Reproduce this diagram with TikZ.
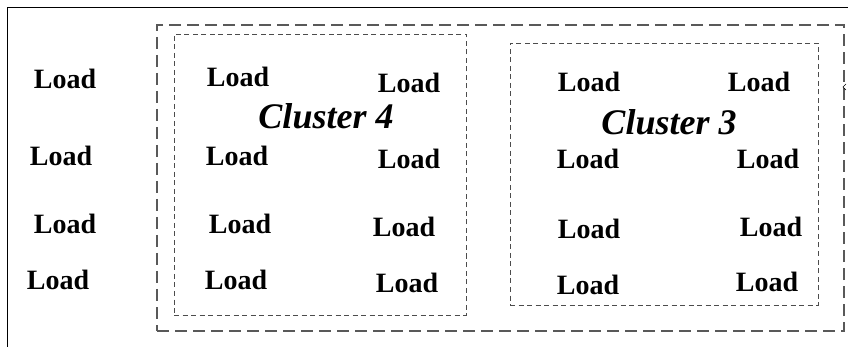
\documentclass[tikz,border=0pt]{standalone}
\usepackage{fontspec}
\setmainfont{Liberation Serif}
\begin{document}
\begin{tikzpicture}[x=1pt,y=-1pt,
  load/.style={font=\fontsize{28}{30}\selectfont\bfseries, anchor=base, inner sep=0pt},
  clabel/.style={font=\fontsize{36}{40}\selectfont\bfseries\itshape, anchor=base, inner sep=0pt},
  outerbox/.style={draw=black!65, line width=1.3pt, dash pattern=on 12pt off 6pt},
  clusterbox/.style={draw=black!70, line width=0.9pt, dash pattern=on 5pt off 3.5pt},
  frame/.style={draw=black, line width=1.3pt}]
\useasboundingbox (0,0) rectangle (848,347);
% partial frame
\coordinate (fbl) at (7.5,347);
\coordinate (ftl) at (7.5,7.5);
\coordinate (ftr) at (848,7.5);
\draw[frame] (fbl) -- (ftl) -- (ftr);
% boxes
\node[outerbox, minimum width=687pt, minimum height=306pt, inner sep=0pt] (outer) at (500.5,178) {};
\node[clusterbox, minimum width=292pt, minimum height=281pt, inner sep=0pt] (c4) at (320,174.5) {};
\node[clusterbox, minimum width=308pt, minimum height=262pt, inner sep=0pt] (c3) at (664,174) {};
% small mark
\coordinate (m1) at (846,84);
\coordinate (m2) at (843,87);
\coordinate (m3) at (846,90);
\draw[line width=0.5pt] (m1) -- (m2) -- (m3);
% left column
\node[load] (l1) at (65,89) {Load};
\node[load] (l2) at (61,166) {Load};
\node[load] (l3) at (65,234) {Load};
\node[load] (l4) at (58,289) {Load};
% cluster 4
\node[load] (a1) at (238,87) {Load};
\node[load] (a2) at (237,166) {Load};
\node[load] (a3) at (240,234) {Load};
\node[load] (a4) at (236,289) {Load};
\node[load] (b1) at (409,93) {Load};
\node[load] (b2) at (409,169) {Load};
\node[load] (b3) at (404,237) {Load};
\node[load] (b4) at (407,292) {Load};
\node[clabel] (t4) at (326,129) {Cluster 4};
% cluster 3
\node[load] (c1) at (589,92) {Load};
\node[load] (c2) at (588,169) {Load};
\node[load] (c3a) at (589,239) {Load};
\node[load] (c4a) at (588,294) {Load};
\node[load] (d1) at (759,92) {Load};
\node[load] (d2) at (768,169) {Load};
\node[load] (d3) at (771,237) {Load};
\node[load] (d4) at (767,291) {Load};
\node[clabel] (t3) at (669,135) {Cluster 3};
\end{tikzpicture}
\end{document}
